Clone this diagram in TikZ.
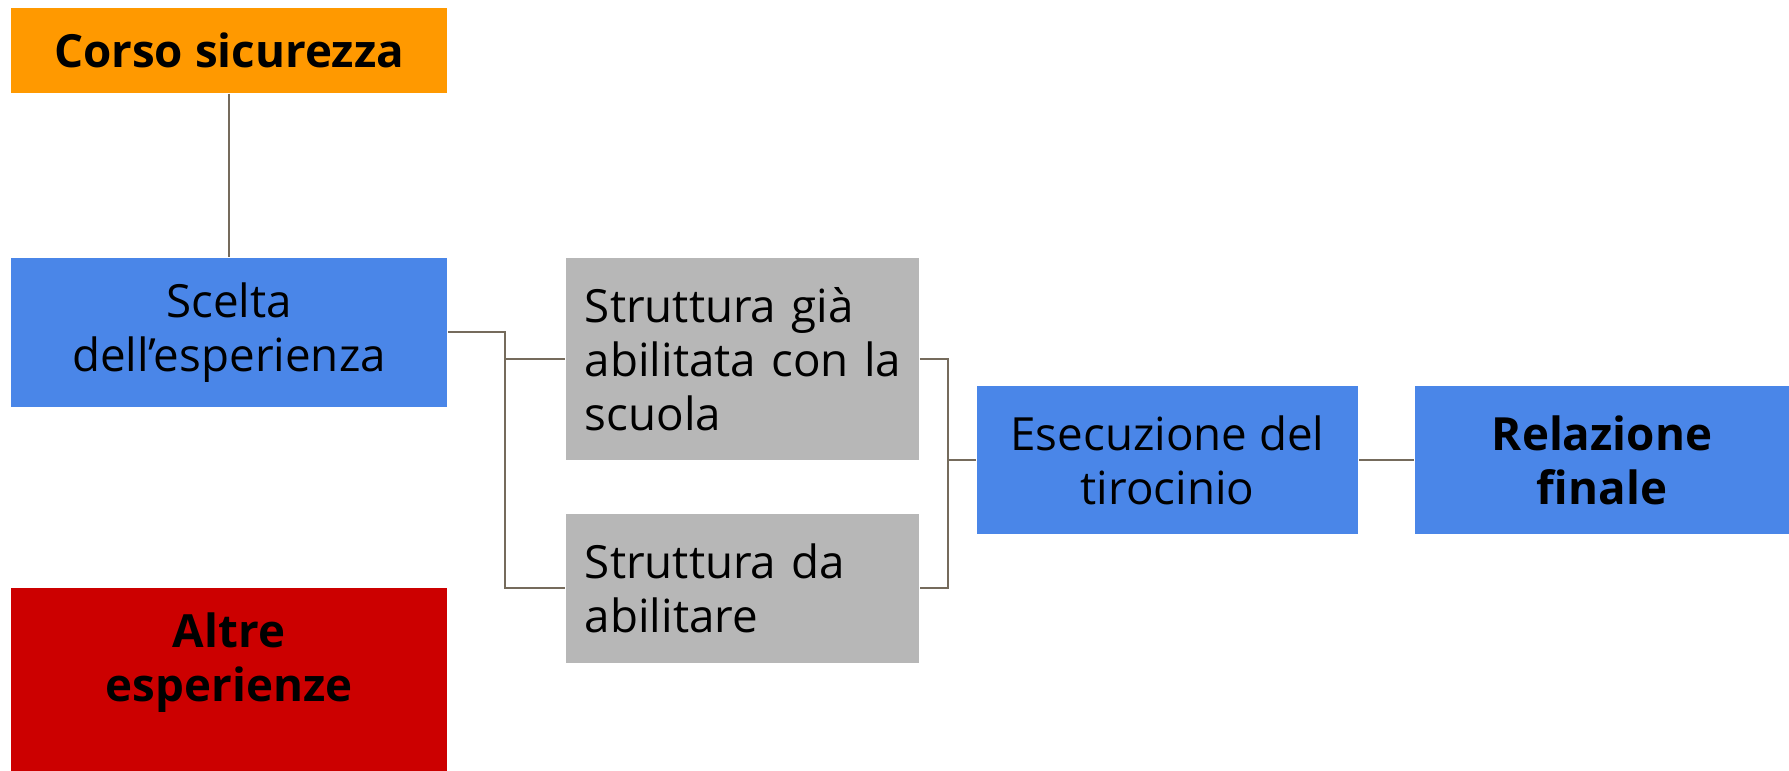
\documentclass[tikz,border=0pt]{standalone}
\usepackage{fontspec}
\setmainfont{Open Sans}
\usepackage{xcolor}
\usetikzlibrary{positioning}
\definecolor{arancio}{HTML}{FF9900}
\definecolor{azzurro}{HTML}{4A86E8}
\definecolor{grigio}{HTML}{B7B7B7}
\definecolor{rosso}{HTML}{CC0000}
\definecolor{linea}{HTML}{756B5C}

\begin{document}
\begin{tikzpicture}[x=0.01cm, y=-0.01cm,
    box/.style={rectangle, inner sep=0pt, align=center, font=\fontsize{13}{15.4}\selectfont},
    boldbox/.style={box, font=\fontsize{13}{15.4}\selectfont\bfseries},
    graybox/.style={box, fill=grigio, inner xsep=0.19cm, text width=3.15cm, align=left, minimum width=3.53cm},
    conn/.style={draw=linea, line width=0.02cm}]
    \useasboundingbox (0,0) rectangle (1789,771);
    %COORDINATE
    \coordinate (fork1) at (505,0);
    \coordinate (fork2) at (948,0);
    %BOX SINISTRA
    \node[boldbox, fill=arancio, minimum width=4.36cm, minimum height=0.85cm] (corso) at (229,50.5) {Corso sicurezza};
    \node[box, fill=azzurro, minimum width=4.36cm, minimum height=1.49cm] (scelta) at (229,332.5) {Scelta\\dell’esperienza};
    \fill[rosso] (11,588) rectangle (447,771);
    \node[boldbox] (altre) at (229,663) {Altre\\esperienze};
    %STRUTTURE
    \node[graybox, minimum height=2.02cm] (sgia) at (742.5,359) {Struttura~già\\\mbox{abilitata con la}\\scuola};
    \node[graybox, minimum height=1.49cm] (sda) at (742.5,588.5) {Struttura~da\\abilitare};
    %BOX DESTRA
    \node[box, fill=azzurro, minimum width=3.81cm, minimum height=1.48cm] (esec) at (1167.5,460) {Esecuzione del\\tirocinio};
    \node[boldbox, fill=azzurro, minimum width=3.74cm, minimum height=1.48cm] (relaz) at (1602,460) {Relazione\\finale};
    %LINEE
    \draw[conn] (corso) -- (scelta);
    \draw[conn] (scelta.east) -- (scelta.east -| fork1) |- (sgia.west);
    \draw[conn] (scelta.east -| fork1) |- (sda.west);
    \draw[conn] (sgia.east) -- (sgia.east -| fork2) |- (sda.east);
    \draw[conn] (fork2 |- esec.west) -- (esec.west);
    \draw[conn] (esec) -- (relaz);
\end{tikzpicture}
\end{document}
